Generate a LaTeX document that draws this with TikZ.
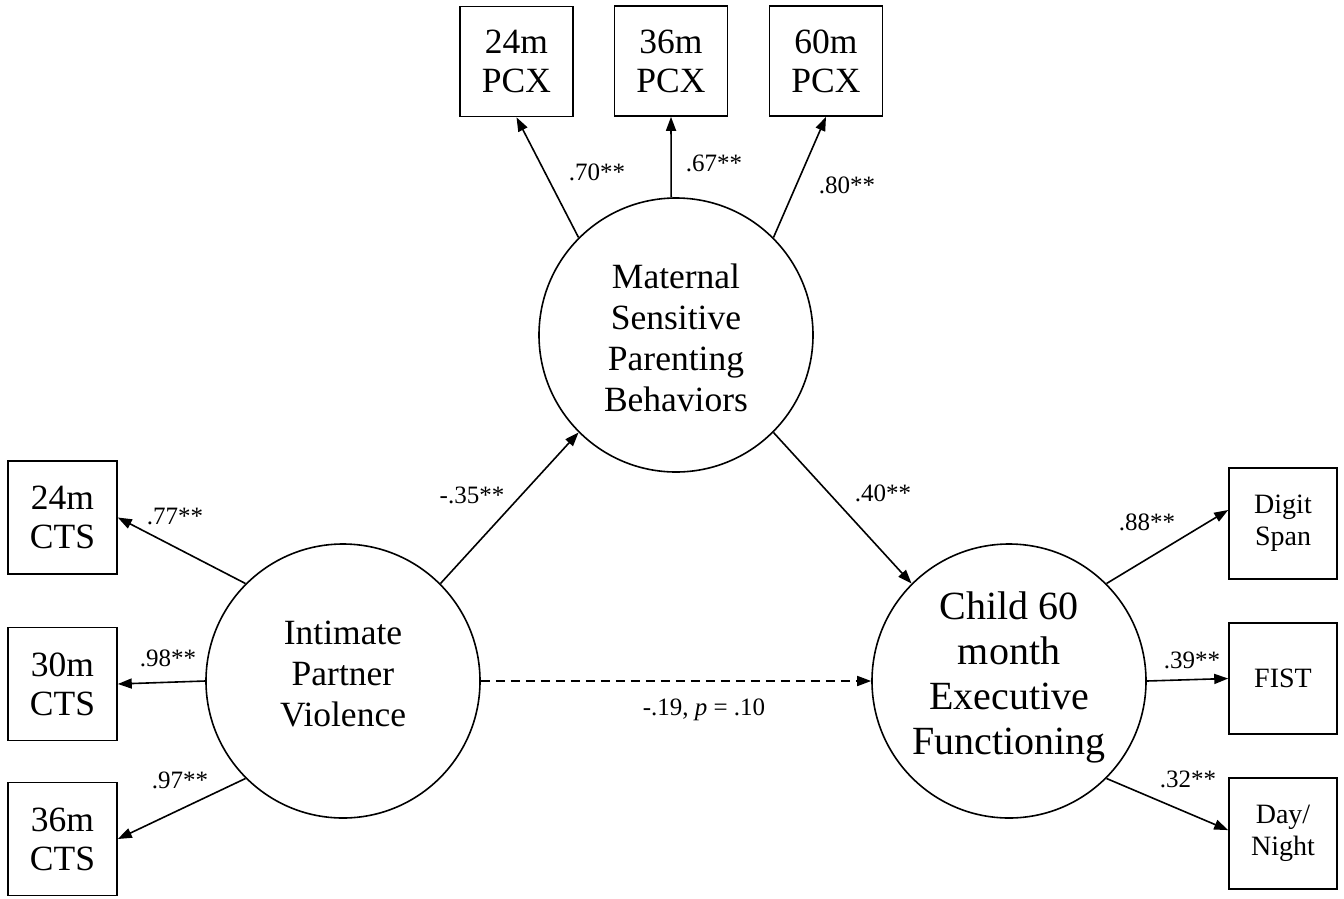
\documentclass[tikz,border=0pt]{standalone}
\usepackage{fontspec}
\setmainfont{Liberation Serif}
\usetikzlibrary{arrows.meta,calc}
\begin{document}
\begin{tikzpicture}[x=1pt,y=-1pt,
  lat/.style={draw, circle, line width=1.6pt, minimum size=274pt, inner sep=0pt, align=center},
  obs/.style={draw, rectangle, line width=1.6pt, inner sep=0pt, align=center},
  bigtxt/.style={font=\fontsize{35.5}{39}\selectfont},
  smalltxt/.style={font=\fontsize{28}{32}\selectfont},
  lbl/.style={font=\fontsize{25}{28}\selectfont, inner sep=0pt},
  arr/.style={line width=1.6pt, -{Triangle[length=14pt,width=10pt]}}]
\useasboundingbox (0,0) rectangle (1344,898);
\fill[white] (0,0) rectangle (1344,898);

% latent variables
\node[lat, font=\fontsize{35.5}{41}\selectfont] (msp) at (676,335) {\rule{0pt}{31pt}Maternal\\Sensitive\\Parenting\\Behaviors};
\node[lat, font=\fontsize{35.5}{41}\selectfont] (ipv) at (343,681) {Intimate\\Partner\\Violence\rule[-14pt]{0pt}{1pt}};
\node[lat, font=\fontsize{40}{45}\selectfont] (ef) at (1009,681) {Child 60\\month\\Executive\\Functioning\rule[-15pt]{0pt}{1pt}};

% indicators of parenting
\node[obs, bigtxt, minimum width=113pt, minimum height=110pt] (p24) at (516.5,61.5) {24m\\PCX};
\node[obs, bigtxt, minimum width=113pt, minimum height=110pt] (p36) at (671,61) {36m\\PCX};
\node[obs, bigtxt, minimum width=113pt, minimum height=110pt] (p60) at (826,61) {60m\\PCX};

% indicators of IPV
\node[obs, bigtxt, minimum width=109pt, minimum height=113pt] (c24) at (62.5,517.5) {24m\\CTS};
\node[obs, bigtxt, minimum width=109pt, minimum height=113pt] (c30) at (62.5,684) {30m\\CTS};
\node[obs, bigtxt, minimum width=109pt, minimum height=113pt] (c36) at (62.5,839) {36m\\CTS};

% indicators of EF
\node[obs, smalltxt, minimum width=108pt, minimum height=111pt] (ds) at (1283,523.5) {Digit\\Span};
\node[obs, smalltxt, minimum width=108pt, minimum height=111pt] (fist) at (1283,678.5) {FIST};
\node[obs, smalltxt, minimum width=108pt, minimum height=111pt] (dn) at (1283,833.5) {Day/\\Night};

% loadings
\draw[arr] (msp.135) -- (p24.south);
\draw[arr] (msp.92) -- (p36.south);
\draw[arr] (msp.45) -- (p60.south);

\draw[arr] (ipv.135) -- (c24.east);
\draw[arr] (ipv.180) -- (c30.east);
\draw[arr] (ipv.225) -- (c36.east);

\draw[arr] (ef.45) -- ($(ds.north west)!0.38!(ds.south west)$);
\draw[arr] (ef.0) -- (fist.west);
\draw[arr] (ef.-45) -- ($(dn.north west)!0.47!(dn.south west)$);

% structural paths
\draw[arr] (ipv.45) -- (msp.225);
\draw[arr] (msp.-45) -- (ef.135);
\draw[arr, dash pattern=on 9pt off 6pt] (ipv.0) -- (ef.180);

% labels
\node[lbl] (l70) at (597,172) {.70**};
\node[lbl] (l67) at (714,163) {.67**};
\node[lbl] (l80) at (847,185) {.80**};
\node[lbl] (l77) at (175,516) {.77**};
\node[lbl] (l98) at (168,658) {.98**};
\node[lbl] (l97) at (180,780) {.97**};
\node[lbl] (l35) at (472,495) {-.35**};
\node[lbl] (l40) at (883,493) {.40**};
\node[lbl] (l88) at (1147,522) {.88**};
\node[lbl] (l39) at (1192,660) {.39**};
\node[lbl] (l32) at (1188,779) {.32**};
\node[lbl] (l19) at (704,710) {-.19, \textit{p} = .10};
\end{tikzpicture}
\end{document}
